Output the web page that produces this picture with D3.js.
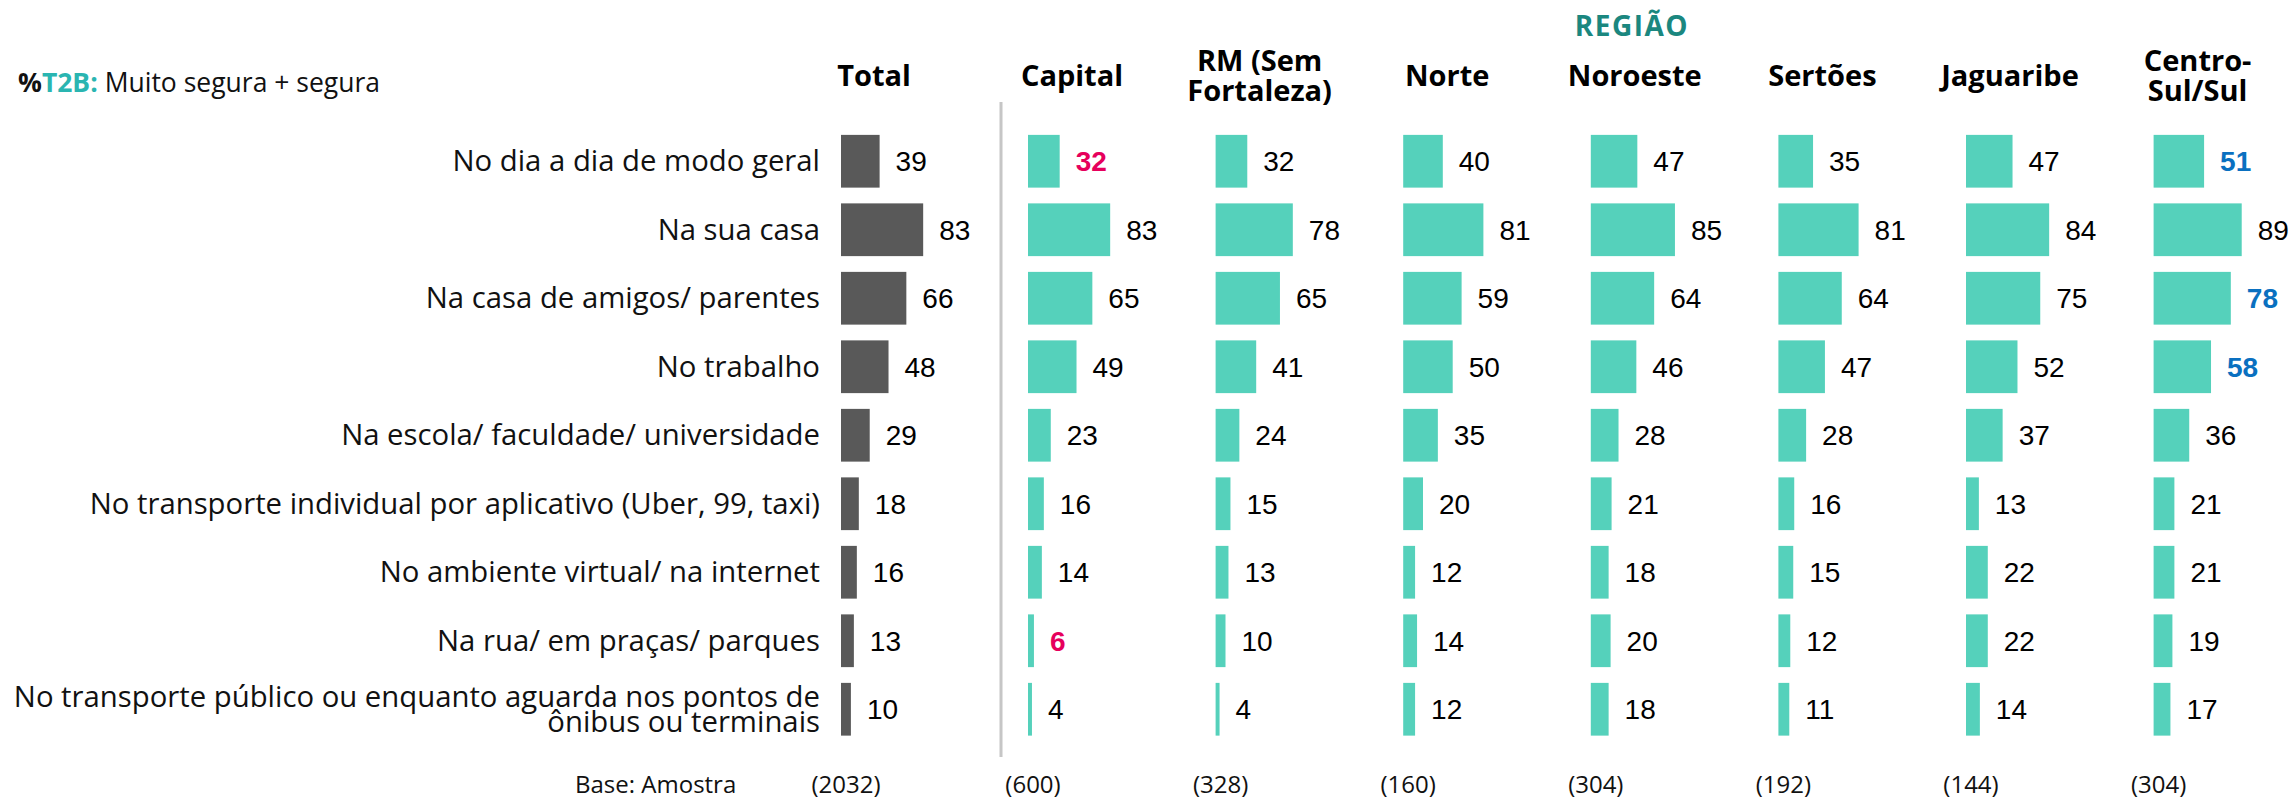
<!DOCTYPE html>
<html lang="pt-br">
<head>
  <meta charset="utf-8">
  <title>Segurança por local - T2B</title>
  <script src="https://d3js.org/d3.v7.min.js"></script>
  <style>
    body { margin: 0; background: #fff; }
    svg text { font-family: "Open Sans", "Liberation Sans", Arial, sans-serif; }
    .num { font-family: "Liberation Sans", Arial, sans-serif; }
  </style>
</head>
<body>
<script>
// dados
var categorias = [
  "No dia a dia de modo geral",
  "Na sua casa",
  "Na casa de amigos/ parentes",
  "No trabalho",
  "Na escola/ faculdade/ universidade",
  "No transporte individual por aplicativo (Uber, 99, taxi)",
  "No ambiente virtual/ na internet",
  "Na rua/ em praças/ parques",
  "No transporte público ou enquanto aguarda nos pontos de|ônibus ou terminais"
];
var regioes = ["Capital", "RM (Sem Fortaleza)", "Norte", "Noroeste", "Sertões", "Jaguaribe", "Centro-Sul/Sul"];
var cabecalhos = {
  "Total": ["Total"], "Capital": ["Capital"], "RM (Sem Fortaleza)": ["RM (Sem", "Fortaleza)"],
  "Norte": ["Norte"], "Noroeste": ["Noroeste"], "Sertões": ["Sertões"],
  "Jaguaribe": ["Jaguaribe"], "Centro-Sul/Sul": ["Centro-", "Sul/Sul"]
};

var total     = [39, 83, 66, 48, 29, 18, 16, 13, 10];
var capital   = [32, 83, 65, 49, 23, 16, 14, 6, 4];
var rm        = [32, 78, 65, 41, 24, 15, 13, 10, 4];
var norte     = [40, 81, 59, 50, 35, 20, 12, 14, 12];
var noroeste  = [47, 85, 64, 46, 28, 21, 18, 20, 18];
var sertoes   = [35, 81, 64, 47, 28, 16, 15, 12, 11];
var jaguaribe = [47, 84, 75, 52, 37, 13, 22, 22, 14];
var centroSul = [51, 89, 78, 58, 36, 21, 21, 19, 17];

var bases = [2032, 600, 328, 160, 304, 192, 144, 304];

// destaques: [coluna, linha]
var abaixo = [["Capital", 0], ["Capital", 7]];
var acima  = [["Centro-Sul/Sul", 0], ["Centro-Sul/Sul", 2], ["Centro-Sul/Sul", 3]];

var width = 2295, height = 800;
var teal = "#55d1bb", cinza = "#595959", vermelho = "#e6005c", azul = "#0a70c0";

var svg = d3.select("body").append("svg")
  .attr("width", width)
  .attr("height", height);

var colunas = ["Total"].concat(regioes);
var series = [total, capital, rm, norte, noroeste, sertoes, jaguaribe, centroSul];

// posicao inicial das barras de cada coluna
var xReg = d3.scaleBand().domain(regioes).range([1028, 1028 + 7 * 187.6]);
function xCol(c) { return c === "Total" ? 841 : xReg(c); }

var y = d3.scaleBand().domain(d3.range(categorias.length))
  .range([127, 127 + 9 * 68.5])
  .paddingInner(0.23).paddingOuter(0.115);

var w = d3.scaleLinear().domain([0, 100]).range([0, 99]);

function corValor(c, i) {
  if (abaixo.some(function(h) { return h[0] === c && h[1] === i; })) return vermelho;
  if (acima.some(function(h) { return h[0] === c && h[1] === i; })) return azul;
  return null;
}

// titulo
var tit = svg.append("text").attr("x", 18).attr("y", 92).attr("font-size", 26.5);
tit.append("tspan").attr("font-weight", "bold").attr("fill", "#111").text("%");
tit.append("tspan").attr("font-weight", "bold").attr("fill", "#2ab5b1").text("T2B:");
tit.append("tspan").attr("fill", "#111").text(" Muito segura + segura");

svg.append("text")
  .attr("x", 1632).attr("y", 36)
  .attr("text-anchor", "middle")
  .attr("font-size", 28).attr("font-weight", "bold")
  .attr("letter-spacing", 1.5)
  .attr("fill", "#1b877f")
  .text("REGIÃO");

// cabecalhos das colunas
colunas.forEach(function(c) {
  var linhas = cabecalhos[c];
  var cx = c === "Total" ? 874 : xCol(c) + 44;
  var t = svg.append("text")
    .attr("text-anchor", "middle")
    .attr("font-size", 29).attr("font-weight", "bold").attr("fill", "#000");
  if (linhas.length === 1) {
    t.append("tspan").attr("x", cx).attr("y", 86).text(linhas[0]);
  } else {
    linhas.forEach(function(l, k) {
      t.append("tspan").attr("x", cx).attr("y", 71 + k * 30).text(l);
    });
  }
});

// linha divisoria
svg.append("line")
  .attr("x1", 1001).attr("x2", 1001)
  .attr("y1", 102).attr("y2", 757)
  .attr("stroke", "#c6c6c6").attr("stroke-width", 3);

// rotulos das categorias
categorias.forEach(function(cat, i) {
  var linhas = cat.split("|");
  var cy = y(i) + y.bandwidth() / 2;
  var t = svg.append("text")
    .attr("text-anchor", "end")
    .attr("font-size", 29.3).attr("fill", "#111");
  linhas.forEach(function(l, k) {
    t.append("tspan")
      .attr("x", 820)
      .attr("y", cy + 10 + (k - (linhas.length - 1) / 2) * 25)
      .text(l);
  });
});

// barras e valores
colunas.forEach(function(c, j) {
  var g = svg.append("g");
  var dados = series[j];
  g.selectAll("rect").data(dados).enter().append("rect")
    .attr("x", xCol(c))
    .attr("y", function(d, i) { return y(i); })
    .attr("width", function(d) { return w(d); })
    .attr("height", y.bandwidth())
    .attr("fill", c === "Total" ? cinza : teal);

  g.selectAll("text").data(dados).enter().append("text")
    .attr("class", "num")
    .attr("x", function(d) { return xCol(c) + w(d) + 16; })
    .attr("y", function(d, i) { return y(i) + y.bandwidth() / 2 + 10; })
    .attr("font-size", 28)
    .attr("font-weight", function(d, i) { return corValor(c, i) ? "bold" : "normal"; })
    .attr("fill", function(d, i) { return corValor(c, i) || "#000"; })
    .text(function(d) { return d; });
});

// base
svg.append("text")
  .attr("x", 575).attr("y", 793)
  .attr("font-size", 24).attr("fill", "#111")
  .text("Base: Amostra");

svg.selectAll("text.base").data(bases).enter().append("text")
  .attr("class", "base")
  .attr("x", function(d, j) { return xCol(colunas[j]) + 5; })
  .attr("y", 793)
  .attr("text-anchor", "middle")
  .attr("font-size", 24).attr("fill", "#111")
  .text(function(d) { return "(" + d + ")"; });
</script>
</body>
</html>
